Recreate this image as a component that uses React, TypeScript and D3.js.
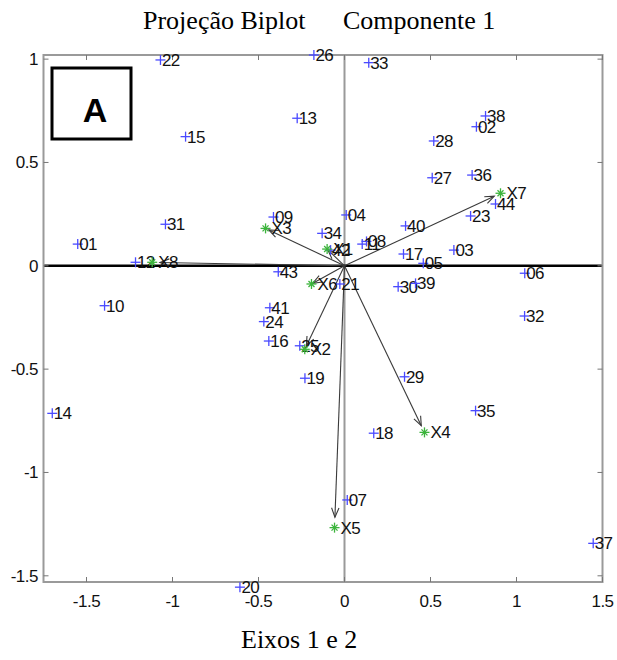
import React from "react";
import * as d3 from "d3";

const obsLabels = ["01","02","03","04","05","06","07","08","09","10","11","12","13","14","15","16","17","18","19","20","21","22","23","24","25","26","27","28","29","30","31","32","33","34","35","36","37","38","39","40","41","42","43","44"];
const obsX = [-1.551,0.767,0.636,0.010,0.458,1.048,0.016,0.128,-0.413,-1.395,0.103,-1.215,-0.275,-1.699,-0.924,-0.440,0.343,0.170,-0.230,-0.608,-0.027,-1.070,0.733,-0.469,-0.260,-0.178,0.510,0.519,0.349,0.312,-1.041,1.047,0.141,-0.130,0.762,0.742,1.446,0.820,0.413,0.355,-0.434,-0.081,-0.385,0.878];
const obsY = [0.105,0.673,0.076,0.246,0.012,-0.036,-1.133,0.118,0.236,-0.193,0.105,0.017,0.714,-0.714,0.625,-0.364,0.057,-0.810,-0.544,-1.555,-0.088,0.996,0.241,-0.270,-0.387,1.020,0.426,0.604,-0.537,-0.101,0.201,-0.243,0.983,0.157,-0.701,0.439,-1.343,0.725,-0.085,0.193,-0.203,0.076,-0.029,0.299];

const varLabels = ["X1","X2","X3","X4","X5","X6","X7","X8"];
const varX = [-0.101,-0.231,-0.459,0.465,-0.058,-0.192,0.907,-1.118];
const varY = [0.081,-0.404,0.181,-0.806,-1.267,-0.088,0.351,0.017];

const xTicks = [-1.5,-1,-0.5,0,0.5,1,1.5];
const yTicks = [-1.5,-1,-0.5,0,0.5,1];
const xDomain = [-1.75, 1.5];
const yDomain = [-1.53, 1.02];

const titleLeft = "Projeção Biplot";
const titleRight = "Componente 1";
const xLabel = "Eixos 1 e 2";
const panelLetter = "A";

export default function App() {
  const W = 617, H = 660;
  const left = 43.5, right = 602.5, top = 55, bottom = 582;
  const x = d3.scaleLinear().domain(xDomain).range([left, right]);
  const y = d3.scaleLinear().domain(yDomain).range([bottom, top]);
  const fmt = (v: number) => (v === 0 ? "0" : String(v));
  const sans = "'Liberation Sans', Arial, sans-serif";
  const serif = "'Liberation Serif', 'Times New Roman', serif";
  const axisCol = "#9a9a9a";
  const tickLen = 5;
  const ox = x(0), oy = y(0);
  const shrink = 0.96;

  return (
    <svg width={W} height={H} style={{ position: "absolute", left: 0, top: 0 }} xmlns="http://www.w3.org/2000/svg">
      <rect x={0} y={0} width={W} height={H} fill="#fff" />
      {/* title */}
      <text x={143} y={29} fontFamily={serif} fontSize={26} fill="#000">{titleLeft}</text>
      <text x={343} y={29} fontFamily={serif} fontSize={26} fill="#000">{titleRight}</text>
      <text x={241} y={648} fontFamily={serif} fontSize={26} fill="#000">{xLabel}</text>

      {/* zero lines */}
      <line x1={ox} x2={ox} y1={top} y2={bottom} stroke={axisCol} strokeWidth={2} />
      <line x1={left} x2={right} y1={oy} y2={oy} stroke="#000" strokeWidth={2.5} />

      {/* box */}
      <rect x={left} y={top} width={right - left} height={bottom - top} fill="none" stroke={axisCol} strokeWidth={2} />
      {xTicks.map((t) => (
        <g key={"xt" + t}>
          <line x1={x(t)} x2={x(t)} y1={bottom} y2={bottom - tickLen} stroke="#777" strokeWidth={1} />
          <line x1={x(t)} x2={x(t)} y1={top} y2={top + tickLen} stroke="#777" strokeWidth={1} />
          <text x={x(t)} y={607} textAnchor="middle" fontFamily={sans} fontSize={17} letterSpacing={-0.5} fill="#111">{fmt(t)}</text>
        </g>
      ))}
      {yTicks.map((t) => (
        <g key={"yt" + t}>
          <line x1={left} x2={left + tickLen} y1={y(t)} y2={y(t)} stroke="#777" strokeWidth={1} />
          <line x1={right} x2={right - tickLen} y1={y(t)} y2={y(t)} stroke="#777" strokeWidth={1} />
          <text x={38} y={y(t) + 6} textAnchor="end" fontFamily={sans} fontSize={17} letterSpacing={-0.5} fill="#111">{fmt(t)}</text>
        </g>
      ))}

      {/* arrows */}
      {varLabels.map((lab, i) => {
        const tx = x(varX[i] * shrink), ty = y(varY[i] * shrink);
        const ang = Math.atan2(ty - oy, tx - ox);
        const hl = 10, ha = 0.38;
        const a1x = tx - hl * Math.cos(ang - ha), a1y = ty - hl * Math.sin(ang - ha);
        const a2x = tx - hl * Math.cos(ang + ha), a2y = ty - hl * Math.sin(ang + ha);
        return (
          <g key={"ar" + lab} stroke="#3a3a3a" strokeWidth={1.1} fill="none">
            <line x1={ox} y1={oy} x2={tx} y2={ty} />
            <polyline points={`${a1x},${a1y} ${tx},${ty} ${a2x},${a2y}`} />
          </g>
        );
      })}

      {/* observation markers and labels */}
      {obsLabels.map((lab, i) => {
        const px = x(obsX[i]), py = y(obsY[i]);
        return (
          <g key={"o" + lab}>
            <line x1={px - 5} x2={px + 5} y1={py} y2={py} stroke="#4a4aff" strokeWidth={1.3} />
            <line x1={px} x2={px} y1={py - 5} y2={py + 5} stroke="#4a4aff" strokeWidth={1.3} />
            <text x={px + 1.5} y={py + 6} fontFamily={sans} fontSize={17} letterSpacing={-0.6} fill="#111">{lab}</text>
          </g>
        );
      })}

      {/* variable markers and labels */}
      {varLabels.map((lab, i) => {
        const px = x(varX[i]), py = y(varY[i]);
        return (
          <g key={"v" + lab}>
            <g stroke="#3cb43c" strokeWidth={1.3}>
              <line x1={px - 5} x2={px + 5} y1={py} y2={py} />
              <line x1={px} x2={px} y1={py - 5} y2={py + 5} />
              <line x1={px - 3} x2={px + 3} y1={py - 3} y2={py + 3} />
              <line x1={px - 3} x2={px + 3} y1={py + 3} y2={py - 3} />
            </g>
            <text x={px + 6} y={py + 6} fontFamily={sans} fontSize={17} letterSpacing={-0.6} fill="#111">{lab}</text>
          </g>
        );
      })}

      {/* panel letter box */}
      <rect x={52} y={68} width={79} height={71} fill="#fff" stroke="#000" strokeWidth={3} />
      <text x={95} y={122} textAnchor="middle" fontFamily={sans} fontWeight="bold" fontSize={34} fill="#000">{panelLetter}</text>
    </svg>
  );
}
